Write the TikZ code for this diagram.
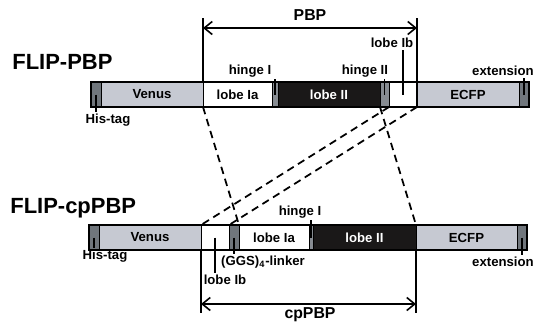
\documentclass[tikz,border=0pt]{standalone}
\usepackage{fontspec}
\setmainfont{Liberation Sans}
\usetikzlibrary{positioning,arrows.meta}
\definecolor{fpgrey}{RGB}{198,201,210}
\definecolor{taggrey}{RGB}{112,118,124}
\definecolor{hingegrey}{RGB}{135,140,146}
\definecolor{lobeblack}{RGB}{26,24,24}
\tikzset{
  seg/.style={draw, line width=0.5pt, inner sep=0pt, outer sep=0pt, minimum height=5mm,
    font=\fontsize{7.5}{8}\selectfont\bfseries},
  fpseg/.style={seg, fill=fpgrey},
  tagseg/.style={seg, fill=taggrey},
  hingeseg/.style={seg, fill=hingegrey},
  lobeseg/.style={seg, fill=white},
  darkseg/.style={seg, fill=lobeblack, text=white},
  barframe/.style={line width=1.1pt},
  partlabel/.style={font=\fontsize{7.5}{8}\selectfont\bfseries, inner sep=1pt},
  spanlabel/.style={font=\fontsize{9}{10}\selectfont\bfseries, inner sep=1pt},
  constructlabel/.style={font=\fontsize{12.5}{14}\selectfont\bfseries, anchor=west, inner sep=0pt},
  tick/.style={line width=0.8pt},
  bracket/.style={line width=0.9pt},
  spanarrow/.style={bracket, {Straight Barb[length=1.6mm,width=2.6mm]}-{Straight Barb[length=1.6mm,width=2.6mm]}},
  mapline/.style={dash pattern=on 1.5mm off 1mm, line width=1pt},
}

\begin{document}
\begin{tikzpicture}[x=0.2mm, y=-0.2mm]
  \useasboundingbox (0,0) rectangle (537,322);
  % FLIP-PBP
  \node[constructlabel] (flippbp) at (12,62) {FLIP-PBP};
  \node[tagseg, minimum width=2mm, anchor=west] (hisA) at (91,94.5) {};
  \node[fpseg, minimum width=20.4mm, right=0pt of hisA] (venusA) {Venus};
  \node[lobeseg, minimum width=13.8mm, right=0pt of venusA] (lobeIaA) {lobe Ia};
  \node[hingeseg, minimum width=1.2mm, right=0pt of lobeIaA] (hingeIA) {};
  \node[darkseg, minimum width=20.4mm, right=0pt of hingeIA] (lobeIIA) {lobe II};
  \node[hingeseg, minimum width=1.8mm, right=0pt of lobeIIA] (hingeIIA) {};
  \node[lobeseg, minimum width=5.6mm, right=0pt of hingeIIA] (lobeIbA) {};
  \node[fpseg, minimum width=20.4mm, right=0pt of lobeIbA] (ecfpA) {ECFP};
  \node[tagseg, minimum width=2mm, right=0pt of ecfpA] (extA) {};
  \draw[barframe] (hisA.north west) rectangle (extA.south east);
  % labels above and below
  \node[partlabel] (histagA) at (108,120) {His-tag};
  \node[partlabel] (hingeIlabA) at (250,71) {hinge I};
  \node[partlabel] (hingeIIlabA) at (365,71) {hinge II};
  \node[partlabel] (lobeIblabA) at (392,43) {lobe Ib};
  \node[partlabel] (extlabA) at (503,71) {extension};
  \draw[tick] (hisA.center) -- (hisA.center |- histagA.north);
  \draw[tick] (hingeIA.center) -- (hingeIA.center |- hingeIlabA.south);
  \draw[tick] (hingeIIA.center) -- (hingeIIA.center |- hingeIIlabA.south);
  \draw[tick] (lobeIbA.center) -- (lobeIbA.center |- lobeIblabA.south);
  \draw[tick] (extA.center) -- (extA.center |- extlabA.south);
  % PBP span
  \node[spanlabel] (pbplab) at (310,15) {PBP};
  \coordinate (pbptop) at (310,18);
  \coordinate (pbpline) at (310,28);
  \draw[bracket] (lobeIaA.north west |- pbptop) -- (lobeIaA.north west);
  \draw[bracket] (lobeIbA.north east |- pbptop) -- (lobeIbA.south east);
  \draw[spanarrow] (lobeIaA.west |- pbpline) -- (lobeIbA.east |- pbpline);

  % FLIP-cpPBP
  \node[constructlabel] (flipcp) at (10,208) {FLIP-cpPBP};
  \node[tagseg, minimum width=2mm, anchor=west] (hisB) at (89,237.5) {};
  \node[fpseg, minimum width=20.4mm, right=0pt of hisB] (venusB) {Venus};
  \node[lobeseg, minimum width=5.6mm, right=0pt of venusB] (lobeIbB) {};
  \node[tagseg, minimum width=2mm, right=0pt of lobeIbB] (linkerB) {};
  \node[lobeseg, minimum width=14mm, right=0pt of linkerB] (lobeIaB) {lobe Ia};
  \node[hingeseg, minimum width=0.8mm, right=0pt of lobeIaB] (hingeIB) {};
  \node[darkseg, minimum width=20.6mm, right=0pt of hingeIB] (lobeIIB) {lobe II};
  \node[fpseg, minimum width=20.2mm, right=0pt of lobeIIB] (ecfpB) {ECFP};
  \node[tagseg, minimum width=2mm, right=0pt of ecfpB] (extB) {};
  \draw[barframe] (hisB.north west) rectangle (extB.south east);
  % labels above and below
  \node[partlabel] (histagB) at (105,256) {His-tag};
  \node[partlabel] (hingeIlabB) at (300,212) {hinge I};
  \node[partlabel] (linkerlabB) at (263,262) {(GGS)\textsubscript{4}-linker};
  \node[partlabel] (lobeIblabB) at (225,280) {lobe Ib};
  \node[partlabel] (extlabB) at (503,262) {extension};
  \draw[tick] (hisB.center) -- (hisB.center |- histagB.north);
  \draw[tick] (hingeIB.center) -- (hingeIB.center |- hingeIlabB.south);
  \draw[tick] (linkerB.center) -- (linkerB.center |- linkerlabB.north);
  \draw[tick] (lobeIbB.center) -- (lobeIbB.center |- lobeIblabB.north);
  \draw[tick] (extB.center) -- (extB.center |- extlabB.north);
  % cpPBP span
  \node[spanlabel] (cppbplab) at (310,315) {cpPBP};
  \coordinate (cpbot) at (310,313);
  \coordinate (cpline) at (310,304);
  \draw[bracket] (lobeIbB.south west) -- (lobeIbB.south west |- cpbot);
  \draw[bracket] (lobeIIB.south east) -- (lobeIIB.south east |- cpbot);
  \draw[spanarrow] (lobeIbB.west |- cpline) -- (lobeIIB.east |- cpline);

  % domain mapping
  \draw[mapline] (lobeIaA.south west) -- (lobeIaB.north west);
  \draw[mapline] (lobeIIA.south east) -- (lobeIIB.north east);
  \draw[mapline] (lobeIbA.south west) -- (lobeIbB.north west);
  \draw[mapline] (lobeIbA.south east) -- (lobeIbB.north east);
\end{tikzpicture}
\end{document}
